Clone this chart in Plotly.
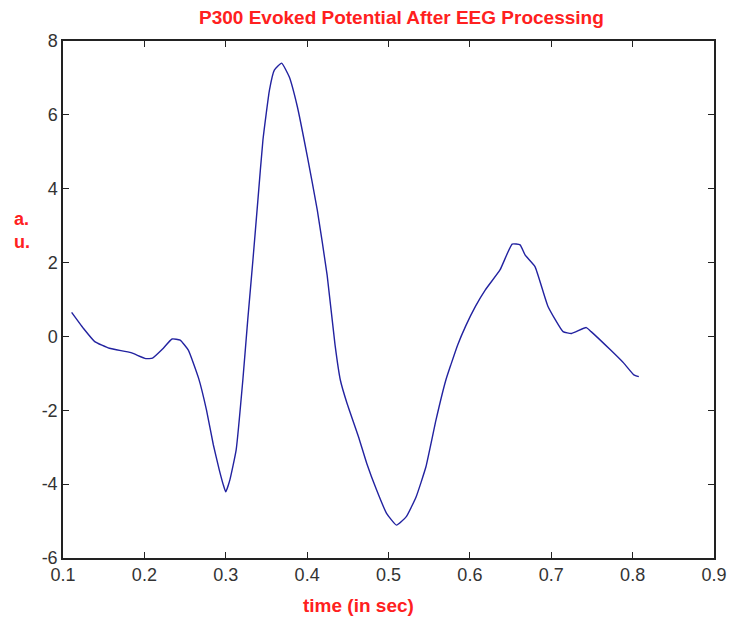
import plotly.graph_objects as go

time_s = [0.1106, 0.125, 0.139, 0.157, 0.1835, 0.2017, 0.21, 0.222, 0.234, 0.244, 0.254,
          0.2666, 0.2763, 0.2848, 0.2921, 0.297, 0.300, 0.305, 0.3128, 0.321, 0.327,
          0.3334, 0.3395, 0.3457, 0.3537, 0.3597, 0.3687, 0.378, 0.388, 0.4003, 0.4125,
          0.4246, 0.4343, 0.4408, 0.449, 0.463, 0.4733, 0.4854, 0.4976, 0.5098, 0.5219,
          0.534, 0.546, 0.5584, 0.5705, 0.5766, 0.585, 0.5948, 0.607, 0.619, 0.637,
          0.652, 0.6617, 0.668, 0.68, 0.696, 0.7145, 0.725, 0.743, 0.749, 0.773,
          0.7894, 0.8015, 0.8076]
amplitude = [0.65, 0.22, -0.14, -0.32, -0.44, -0.60, -0.59, -0.35, -0.07, -0.10, -0.37,
             -1.13, -1.99, -2.94, -3.62, -4.02, -4.21, -3.89, -3.07, -1.18, 0.44,
             2.07, 3.69, 5.32, 6.67, 7.21, 7.40, 7.03, 6.22, 4.87, 3.42,
             1.66, -0.23, -1.18, -1.81, -2.71, -3.44, -4.16, -4.79, -5.11, -4.88,
             -4.34, -3.53, -2.26, -1.18, -0.77, -0.23, 0.28, 0.82, 1.26, 1.80,
             2.50, 2.48, 2.20, 1.89, 0.81, 0.13, 0.08, 0.24, 0.13, -0.37,
             -0.73, -1.04, -1.09]

x_ticks = [0.1, 0.2, 0.3, 0.4, 0.5, 0.6, 0.7, 0.8, 0.9]
y_ticks = [-6, -4, -2, 0, 2, 4, 6, 8]

title_text = "P300 Evoked Potential After EEG Processing"
x_label = "time (in sec)"
y_label = "a.<br>u."

fig = go.Figure()
fig.add_trace(go.Scatter(x=time_s, y=amplitude, mode="lines",
                         line=dict(color="#2222a0", width=1.4, shape="spline", smoothing=0.4),
                         showlegend=False))

axis_common = dict(showline=True, mirror="ticks", linecolor="#222222", linewidth=1.5,
                   ticks="inside", ticklen=6, tickwidth=1, tickcolor="#222222",
                   showgrid=False, zeroline=False,
                   tickfont=dict(family="Liberation Sans, Arial, sans-serif", size=18, color="#333333"))

fig.update_xaxes(range=[0.1, 0.9], tickvals=x_ticks, ticktext=[f"{v:g}" for v in x_ticks], **axis_common)
fig.update_yaxes(range=[-6, 8], tickvals=y_ticks, ticktext=[f"{v:g}" for v in y_ticks], **axis_common)

red_font = dict(family="Liberation Sans, Arial, sans-serif", size=19, color="#ff2020")
fig.update_layout(
    width=739, height=624,
    margin=dict(l=63, r=18, t=41, b=66),
    paper_bgcolor="white", plot_bgcolor="white",
    annotations=[
        dict(text=f"<b>{title_text}</b>", x=0.52, y=1.0445, xref="paper", yref="paper",
             showarrow=False, font=red_font, xanchor="center", yanchor="middle"),
        dict(text=f"<b>{x_label}</b>", x=0.4544, y=-0.0928, xref="paper", yref="paper",
             showarrow=False, font=red_font, xanchor="center", yanchor="middle"),
        dict(text=f"<b>{y_label}</b>", x=-0.078, y=0.6325, xref="paper", yref="paper",
             showarrow=False, font=dict(family="Liberation Sans, Arial, sans-serif", size=18, color="#ff2020"),
             xanchor="left", yanchor="middle", align="left"),
    ],
)

fig.write_html("out.html")
